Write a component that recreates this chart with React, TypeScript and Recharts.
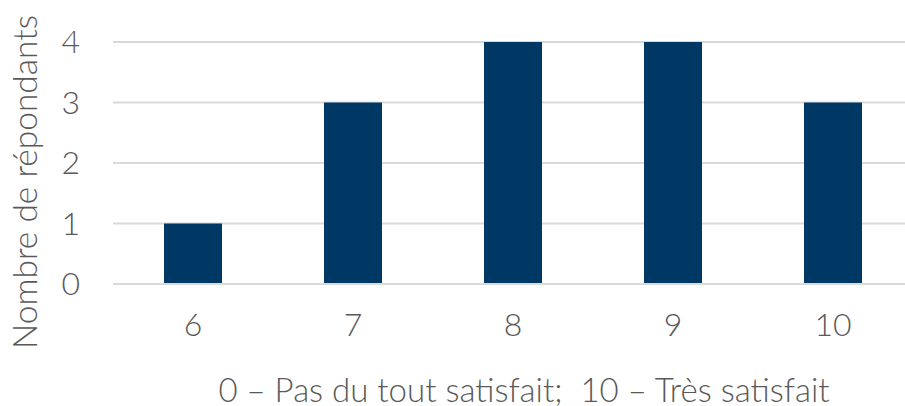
import { BarChart, Bar, XAxis, YAxis, CartesianGrid } from 'recharts'

// Satisfaction scores and number of respondents per score
const scores = ['6', '7', '8', '9', '10']
const respondents = [1, 3, 4, 4, 3]
const yTicks = [0, 1, 2, 3, 4]

const data = scores.map((s, i) => ({ score: s, count: respondents[i] }))

const FONT = 'Lato, "Open Sans", sans-serif'
const TEXT = '#595959'

// rotated y-axis title, drawn by hand
function YTitle() {
  return (
    <text
      transform="translate(37, 182) rotate(-90)"
      textAnchor="middle"
      fill={TEXT}
      fontSize={33.5}
      fontWeight={300}
      fontFamily={FONT}
    >
      Nombre de répondants
    </text>
  )
}

export default function App() {
  return (
    <div style={{ position: 'absolute', left: 0, top: 0, width: 905, height: 406, overflow: 'hidden' }}>
      {/* plot area runs past the right edge in the original, so draw wider and clip */}
      <BarChart
        width={913}
        height={406}
        data={data}
        margin={{ top: 42, right: 0, bottom: 0, left: 0 }}
      >
        <CartesianGrid vertical={false} stroke="#d9d9d9" strokeWidth={2} />
        <XAxis
          dataKey="score"
          height={122}
          axisLine={{ stroke: '#d9d9d9', strokeWidth: 2 }}
          tickLine={false}
          tickSize={0}
          tickMargin={29}
          tick={{ fill: TEXT, fontSize: 32, fontWeight: 300, fontFamily: FONT }}
          label={{
            value: '0 – Pas du tout satisfait;\u00a0 10 – Très satisfait',
            position: 'insideBottom',
            offset: 4,
            dx: 11,
            fill: TEXT,
            fontSize: 33,
            fontWeight: 300,
            fontFamily: FONT,
          }}
        />
        <YAxis
          width={113}
          domain={[0, 4]}
          ticks={yTicks}
          axisLine={false}
          tickLine={false}
          tickSize={0}
          tickMargin={33}
          tick={{ fill: TEXT, fontSize: 32, fontWeight: 300, fontFamily: FONT }}
          label={<YTitle />}
        />
        <Bar dataKey="count" fill="#003865" barSize={58} isAnimationActive={false} />
      </BarChart>
    </div>
  )
}
